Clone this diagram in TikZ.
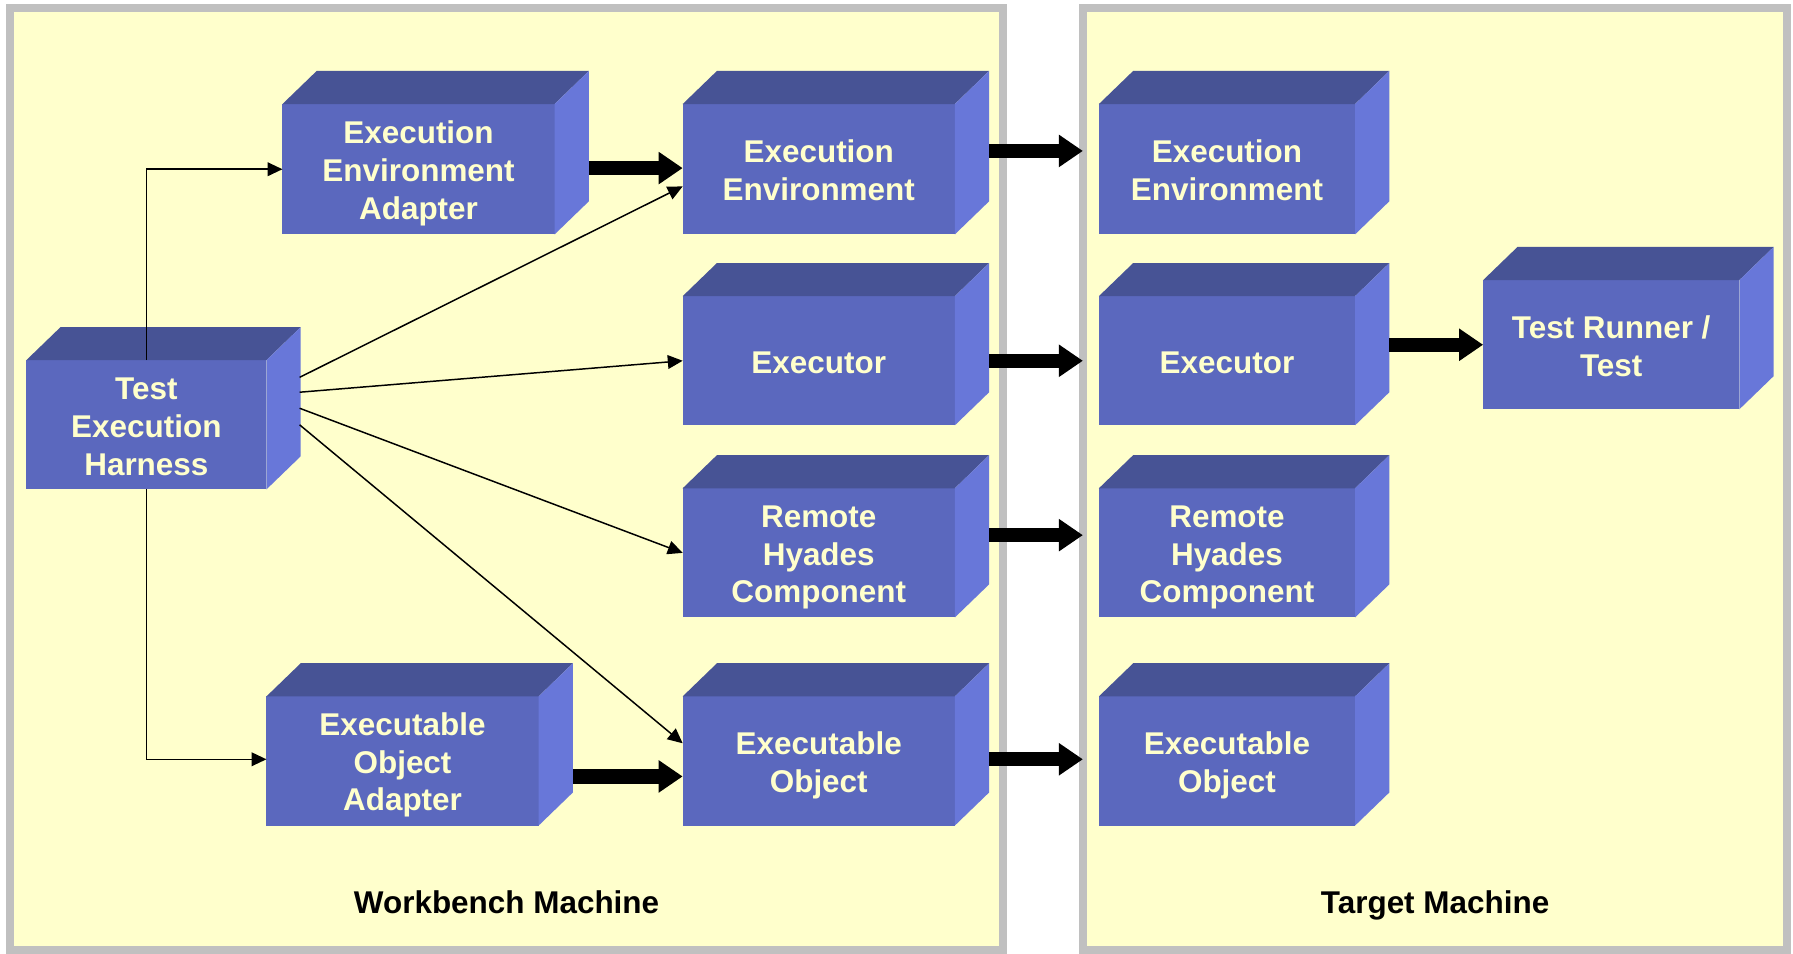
\documentclass[tikz,border=0pt]{standalone}
\usepackage{fontspec}
\setmainfont{Liberation Sans}
\usetikzlibrary{arrows.meta}
\definecolor{panelfill}{HTML}{FFFFCC}
\definecolor{panelline}{HTML}{C0C0C0}
\definecolor{cfront}{HTML}{5B68BE}
\definecolor{ctop}{HTML}{475395}
\definecolor{cside}{HTML}{6877D9}
\definecolor{ctext}{HTML}{FFFFCC}
\newcommand\cs{\rule[-5pt]{0pt}{32pt}}
\tikzset{
  panel/.style={fill=panelfill,draw=panelline,line width=7pt},
  cube/.style={rectangle,fill=cfront,text=ctext,align=center,inner sep=0pt,outer sep=0pt,
     minimum height=114pt,font=\fontsize{27.5}{33}\selectfont\bfseries},
  thinarrow/.style={line width=1.3pt,-{Triangle[length=13pt,width=12pt]}},
  bigarrow/.style={line width=12.5pt,-{Triangle[length=21pt,width=27pt]}},
  panellabel/.style={font=\fontsize{27.5}{33}\selectfont\bfseries,text=black,anchor=base}
}
\begin{document}
\begin{tikzpicture}[x=1pt,y=-1pt]
\useasboundingbox (0,0) rectangle (1568,834);
\fill[white] (0,0) rectangle (1568,834);
% panels
\draw[panel] (8.5,7) rectangle (877.5,830.5);
\draw[panel] (947,7) rectangle (1563,830.5);
\node[panellabel] (wbl) at (443,799) {Workbench Machine};
\node[panellabel] (tml) at (1255,799) {Target Machine};
% boxes (front faces)
\node[cube,minimum width=238pt] (eea) at (366,148) {\cs Execution\\\cs Environment\\\cs Adapter};
\node[cube,minimum width=238pt] (eeL) at (716,148) {\cs Execution\\\cs Environment};
\node[cube,minimum width=224pt] (eeR) at (1073,148) {\cs Execution\\\cs Environment};
\node[cube,minimum width=210pt,minimum height=113pt] (teh) at (128,371.5) {\cs Test\\\cs Execution\\\cs Harness};
\node[cube,minimum width=238pt,minimum height=113pt] (exL) at (716,315.5) {\cs Executor};
\node[cube,minimum width=224pt,minimum height=113pt] (exR) at (1073,315.5) {\cs Executor};
\node[cube,minimum width=224pt,minimum height=113pt] (tr) at (1409,301.5) {\cs Test Runner /\\\cs Test};
\node[cube,minimum width=238pt,minimum height=113pt] (rhL) at (716,483.5) {\cs Remote\\\cs Hyades\\\cs Component};
\node[cube,minimum width=224pt,minimum height=113pt] (rhR) at (1073,483.5) {\cs Remote\\\cs Hyades\\\cs Component};
\node[cube,minimum width=238pt,minimum height=113pt] (eoa) at (352,665.5) {\cs Executable\\\cs Object\\\cs Adapter};
\node[cube,minimum width=238pt,minimum height=113pt] (eoL) at (716,665.5) {\cs Executable\\\cs Object};
\node[cube,minimum width=224pt,minimum height=113pt] (eoR) at (1073,665.5) {\cs Executable\\\cs Object};
% 3D faces
\foreach \n in {eea,eeL,eeR,teh,exL,exR,tr,rhL,rhR,eoa,eoL,eoR}{
  \fill[ctop] (\n.north west) -- ++(30,-29) -- ([shift={(30,-29)}]\n.north east) -- (\n.north east) -- cycle;
  \fill[cside] (\n.north east) -- ++(30,-29) -- ([shift={(30,-29)}]\n.south east) -- (\n.south east) -- cycle;
}
% thin connectors
\draw[thinarrow] (teh.north) |- (eea.west);
\draw[thinarrow] (teh.south) |- ([yshift=1.5pt]eoa.west);
\draw[thinarrow] ([xshift=29pt,yshift=41.5pt]teh.east) -- ([yshift=-15pt]eeL.west);
\draw[thinarrow] ([xshift=29pt,yshift=28.5pt]teh.east) -- (exL.west);
\draw[thinarrow] ([xshift=29pt,yshift=14.5pt]teh.east) -- (rhL.west);
\draw[thinarrow] ([xshift=29pt]teh.east) -- ([yshift=15.5pt]eoL.west);
% thick arrows
\draw[bigarrow] ([xshift=30pt,yshift=1pt]eea.east) -- ([yshift=1pt]eeL.west);
\draw[bigarrow] ([xshift=30pt,yshift=16pt]eeL.east) -- ([xshift=-14pt,yshift=16pt]eeR.west);
\draw[bigarrow] ([xshift=30pt]exL.east) -- ([xshift=-14pt]exR.west);
\draw[bigarrow] ([xshift=30pt,yshift=15.5pt]rhL.east) -- ([xshift=-14pt,yshift=15.5pt]rhR.west);
\draw[bigarrow] ([xshift=30pt,yshift=1.5pt]eoL.east) -- ([xshift=-14pt,yshift=1.5pt]eoR.west);
\draw[bigarrow] ([xshift=30pt,yshift=-13.5pt]eoa.east) -- ([yshift=-13.5pt]eoL.west);
\draw[bigarrow] ([xshift=30pt]exR.east |- tr.west) -- (tr.west);
\end{tikzpicture}
\end{document}
